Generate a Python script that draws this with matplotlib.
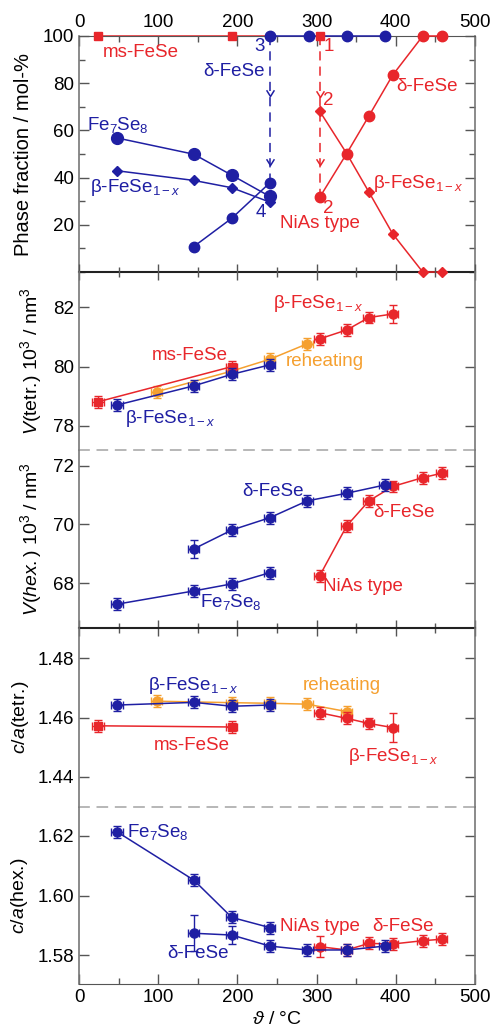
import matplotlib
matplotlib.use('Agg')
import matplotlib.pyplot as plt
from matplotlib.ticker import MultipleLocator, FormatStrFormatter

plt.rcParams['font.family'] = ['Liberation Sans', 'DejaVu Sans']
plt.rcParams['mathtext.fontset'] = 'custom'
plt.rcParams['mathtext.rm'] = 'Liberation Sans'
plt.rcParams['mathtext.it'] = 'Liberation Sans:italic'
plt.rcParams['font.size'] = 13

RED = '#e8262b'
BLUE = '#1f1fa3'
ORANGE = '#f5a030'

# ---- phase fractions (mol-%) ----
T_ms = [24, 193]
frac_ms = [100, 100]
T_d100 = [241, 290, 338, 386]
frac_d100 = [100, 100, 100, 100]
T_one = [304]
frac_one = [100]

T_lo = [48, 145, 193, 241]
frac_fe7se8 = [56.8, 49.9, 41.0, 32.0]
frac_beta_lo = [42.9, 38.8, 35.7, 29.6]
T_dlo = [145, 193, 241]
frac_delta_lo = [10.8, 22.8, 37.8]

T_hi = [304, 338, 366, 396, 434, 458]
frac_nias = [31.7, 50.2, 66.1, 83.4, 100, 100]
frac_beta_hi = [68.1, 50.2, 33.9, 16.2, 0, 0]

# ---- V(tetr.) ----
v_ms = [78.81, 80.00]
v_beta_lo = [78.70, 79.35, 79.74, 80.06]
T_re = [98, 193, 241, 288]
v_re = [79.15, 79.85, 80.25, 80.77]
T_bhi = [304, 338, 366, 396]
v_beta_hi = [80.94, 81.24, 81.66, 81.78]
v_beta_hi_err = [0.2, 0.2, 0.2, 0.3]

# ---- V(hex.) ----
T_d = [145, 193, 241, 288, 338, 386]
v_delta = [69.17, 69.81, 70.23, 70.80, 71.06, 71.34]
v_delta_err = [0.3, 0.2, 0.2, 0.2, 0.2, 0.2]
v_fe7se8 = [67.29, 67.74, 67.98, 68.36]
v_nias = [68.26, 69.95, 70.80, 71.29, 71.59, 71.74]

# ---- c/a (tetr.) ----
ca_beta_lo = [1.4642, 1.4651, 1.4638, 1.4642]
T_re_ca = [98, 193, 241, 288, 338]
ca_re = [1.4655, 1.4650, 1.4648, 1.4645, 1.4620]
ca_ms = [1.4572, 1.4568]
ca_beta_hi = [1.4616, 1.4597, 1.4580, 1.4566]
ca_beta_hi_err = [0.002, 0.002, 0.002, 0.005]

# ---- c/a (hex.) ----
ca_fe7se8 = [1.6214, 1.6052, 1.5927, 1.5893]
ca_delta = [1.5874, 1.5868, 1.5831, 1.5818, 1.5818, 1.5831]
ca_delta_err = [0.006, 0.003, 0.002, 0.002, 0.002, 0.002]
ca_nias = [1.5829, 1.5818, 1.5840, 1.5838, 1.5849, 1.5854]
ca_nias_err = [0.0035, 0.002, 0.002, 0.002, 0.002, 0.002]

# dashed arrows in the phase panel
arrow_blue_T, arrow_blue_span, arrow_blue_tips = 241, [100, 39], [74.5, 45.5]
arrow_red_T, arrow_red_span, arrow_red_tips = 304, [100, 34], [74, 45.5]

fig = plt.figure(figsize=(4.94, 10.34), dpi=100)
L, W = 79 / 494, 396 / 494


def box(top, bot):
    return [L, 1 - bot / 1034, W, (bot - top) / 1034]


ax1 = fig.add_axes(box(36, 272))
axVt = fig.add_axes(box(272, 450))
axVh = fig.add_axes(box(450, 628))
axCt = fig.add_axes(box(628, 807))
axCh = fig.add_axes(box(807, 984))
axes = [ax1, axVt, axVh, axCt, axCh]

for ax in axes:
    ax.set_xlim(0, 500)
    ax.xaxis.set_major_locator(MultipleLocator(100))
    ax.xaxis.set_minor_locator(MultipleLocator(50))
    ax.tick_params(axis='y', which='both', direction='in', left=True, right=True,
                   labelsize=13.5, color='#555555')
    ax.tick_params(axis='y', which='major', length=7, width=1)
    ax.tick_params(axis='y', which='minor', length=4, width=1)
    ax.tick_params(axis='x', which='major', length=7, width=1, labelsize=13.5, color='#555555')
    ax.tick_params(axis='x', which='minor', length=4, width=1, color='#555555')
    for s in ['left', 'right']:
        ax.spines[s].set_color('#777777')
        ax.spines[s].set_linewidth(1.2)
    ax.patch.set_alpha(0)

# x tick placement per panel
ax1.tick_params(axis='x', which='both', direction='in', top=True, bottom=False,
                labeltop=True, labelbottom=False)
axVt.tick_params(axis='x', which='both', direction='inout', top=True, bottom=False,
                 labeltop=False, labelbottom=False)
axVt.tick_params(axis='x', which='major', length=11)
axVt.tick_params(axis='x', which='minor', length=7)
axVh.tick_params(axis='x', which='both', direction='inout', top=False, bottom=True,
                 labeltop=False, labelbottom=False)
axVh.tick_params(axis='x', which='major', length=11)
axVh.tick_params(axis='x', which='minor', length=7)
axCt.tick_params(axis='x', which='both', top=False, bottom=False,
                 labeltop=False, labelbottom=False)
axCh.tick_params(axis='x', which='both', direction='in', top=False, bottom=True,
                 labelbottom=True)

# spines
ax1.spines['top'].set_color('#555555')
ax1.spines['bottom'].set_color('#222222')
ax1.spines['bottom'].set_linewidth(1.5)
axVt.spines['top'].set_visible(False)
axVh.spines['bottom'].set_color('#222222')
axVh.spines['bottom'].set_linewidth(1.5)
axCt.spines['top'].set_visible(False)
axCh.spines['bottom'].set_color('#555555')
for ax in [axVt, axCt]:
    ax.spines['bottom'].set_color('#aaaaaa')
    ax.spines['bottom'].set_linestyle((0, (6, 5)))
    ax.spines['bottom'].set_linewidth(1.2)
for ax in [axVh, axCh]:
    ax.spines['top'].set_visible(False)

# ---------- panel 1: phase fractions ----------
ax1.set_ylim(0, 100)
ax1.yaxis.set_major_locator(MultipleLocator(20))
ax1.yaxis.set_minor_locator(MultipleLocator(10))
ax1.set_yticks([20, 40, 60, 80, 100])

ax1.plot(T_d100, frac_d100, color=BLUE, marker='o', ms=7.5, lw=1.1, zorder=3, clip_on=False)
ax1.plot(T_ms + T_d100[:1], frac_ms + frac_d100[:1], color=RED, lw=1.1, zorder=2, clip_on=False)
ax1.plot(T_ms, frac_ms, color=RED, marker='s', ms=6, lw=0, zorder=4, clip_on=False)
ax1.plot(T_one, frac_one, color=RED, marker='s', ms=6, lw=0, zorder=4, clip_on=False)

ax1.plot(T_lo, frac_fe7se8, color=BLUE, marker='o', ms=8.5, lw=1.1, zorder=3)
ax1.plot(T_lo, frac_beta_lo, color=BLUE, marker='D', ms=5.5, lw=1.1, zorder=3)
ax1.plot(T_dlo, frac_delta_lo, color=BLUE, marker='o', ms=7.5, lw=1.1, zorder=3)
ax1.plot(T_hi, frac_nias, color=RED, marker='o', ms=7.5, lw=1.1, zorder=3, clip_on=False)
ax1.plot(T_hi, frac_beta_hi, color=RED, marker='D', ms=5.5, lw=1.1, zorder=3, clip_on=False)

vhead = [(-1, 1.6), (0, 0), (1, 1.6)]
for T, span, tips, c in [(arrow_blue_T, arrow_blue_span, arrow_blue_tips, BLUE),
                         (arrow_red_T, arrow_red_span, arrow_red_tips, RED)]:
    ax1.plot([T, T], span, color=c, lw=1.1, ls=(0, (6, 4)), zorder=2)
    ax1.plot([T] * len(tips), tips, lw=0, marker=vhead, ms=9, mfc='none',
             mec=c, mew=1.1, zorder=2)

ax1.text(30, 92.8, 'ms-FeSe', color=RED, fontsize=13.5, va='center')
ax1.text(234, 85.1, 'δ-FeSe', color=BLUE, fontsize=13.5, va='center', ha='right')
ax1.text(10.5, 62.2, 'Fe$_7$Se$_8$', color=BLUE, fontsize=13.5, va='center')
ax1.text(14.5, 36, 'β-FeSe$_{1-x}$', color=BLUE, fontsize=13.5, va='center')
ax1.text(401, 78.5, 'δ-FeSe', color=RED, fontsize=13.5, va='center')
ax1.text(371, 37.4, 'β-FeSe$_{1-x}$', color=RED, fontsize=13.5, va='center')
ax1.text(254, 20.4, 'NiAs type', color=RED, fontsize=13.5, va='center')
ax1.text(228, 95.5, '3', color=BLUE, fontsize=13.5, va='center', ha='center')
ax1.text(230, 25.4, '4', color=BLUE, fontsize=13.5, va='center', ha='center')
ax1.text(315, 95.5, '1', color=RED, fontsize=13.5, va='center', ha='center')
ax1.text(315, 72.8, '2', color=RED, fontsize=13.5, va='center', ha='center')
ax1.text(315, 26.8, '2', color=RED, fontsize=13.5, va='center', ha='center')
ax1.set_ylabel('Phase fraction / mol-%', fontsize=14.5, va='center')
ax1.yaxis.set_label_coords(-0.139, 0.5)


def pts(ax, x, y, color, marker='o', yerr=None, xerr=7, ms=6.5, z=3):
    ax.errorbar(x, y, xerr=xerr, yerr=yerr, color=color, marker=marker, ms=ms,
                lw=1.1, elinewidth=1, capsize=3, capthick=1, zorder=z)


# ---------- panel 2: V(tetr.) ----------
axVt.set_ylim(77.18, 83.2)
axVt.set_yticks([78, 80, 82])
pts(axVt, T_re, v_re, ORANGE, yerr=0.2, z=2)
pts(axVt, T_ms, v_ms, RED, marker='s', yerr=0.2, ms=6, z=3)
pts(axVt, T_lo, v_beta_lo, BLUE, yerr=0.2, z=4)
pts(axVt, T_bhi, v_beta_hi, RED, yerr=v_beta_hi_err, z=3)
axVt.text(245, 82.15, 'β-FeSe$_{1-x}$', color=RED, fontsize=13.5, va='center')
axVt.text(92, 80.36, 'ms-FeSe', color=RED, fontsize=13.5, va='center')
axVt.text(261, 80.17, 'reheating', color=ORANGE, fontsize=13.5, va='center')
axVt.text(58, 78.25, 'β-FeSe$_{1-x}$', color=BLUE, fontsize=13.5, va='center')
axVt.set_ylabel('$V$(tetr.) 10$^3$ / nm$^3$', fontsize=14, va='center')
axVt.yaxis.set_label_coords(-0.122, 0.5)

# ---------- panel 3: V(hex.) ----------
axVh.set_ylim(66.48, 72.53)
axVh.set_yticks([68, 70, 72])
pts(axVh, T_lo, v_fe7se8, BLUE, yerr=0.2)
pts(axVh, T_hi, v_nias, RED, yerr=0.2, z=3)
pts(axVh, T_d, v_delta, BLUE, yerr=v_delta_err, z=4)
axVh.text(206, 71.12, 'δ-FeSe', color=BLUE, fontsize=13.5, va='center')
axVh.text(371, 70.4, 'δ-FeSe', color=RED, fontsize=13.5, va='center')
axVh.text(308, 67.88, 'NiAs type', color=RED, fontsize=13.5, va='center')
axVh.text(153, 67.35, 'Fe$_7$Se$_8$', color=BLUE, fontsize=13.5, va='center')
axVh.set_ylabel('$V$($hex.$) 10$^3$ / nm$^3$', fontsize=14, va='center')
axVh.yaxis.set_label_coords(-0.122, 0.5)

# ---------- panel 4: c/a (tetr.) ----------
axCt.set_ylim(1.4298, 1.4902)
axCt.set_yticks([1.44, 1.46, 1.48])
axCt.yaxis.set_major_formatter(FormatStrFormatter('%.2f'))
pts(axCt, T_re_ca, ca_re, ORANGE, yerr=0.002, z=2)
pts(axCt, T_ms, ca_ms, RED, marker='s', yerr=0.002, ms=6, z=3)
pts(axCt, T_lo, ca_beta_lo, BLUE, yerr=0.002, z=4)
pts(axCt, T_bhi, ca_beta_hi, RED, yerr=ca_beta_hi_err, z=3)
axCt.text(87, 1.4709, 'β-FeSe$_{1-x}$', color=BLUE, fontsize=13.5, va='center')
axCt.text(283, 1.4709, 'reheating', color=ORANGE, fontsize=13.5, va='center')
axCt.text(94, 1.4506, 'ms-FeSe', color=RED, fontsize=13.5, va='center')
axCt.text(340, 1.4467, 'β-FeSe$_{1-x}$', color=RED, fontsize=13.5, va='center')
axCt.set_ylabel('$c/a$(tetr.)', fontsize=14, va='center')
axCt.yaxis.set_label_coords(-0.148, 0.5)

# ---------- panel 5: c/a (hex.) ----------
axCh.set_ylim(1.5704, 1.6297)
axCh.set_yticks([1.58, 1.60, 1.62])
axCh.yaxis.set_major_formatter(FormatStrFormatter('%.2f'))
pts(axCh, T_hi, ca_nias, RED, yerr=ca_nias_err, z=3)
pts(axCh, T_lo, ca_fe7se8, BLUE, yerr=0.002, z=4)
pts(axCh, T_d, ca_delta, BLUE, yerr=ca_delta_err, z=4)
axCh.text(60, 1.6214, 'Fe$_7$Se$_8$', color=BLUE, fontsize=13.5, va='center')
axCh.text(254, 1.5898, 'NiAs type', color=RED, fontsize=13.5, va='center')
axCh.text(370, 1.5898, 'δ-FeSe', color=RED, fontsize=13.5, va='center')
axCh.text(112, 1.5807, 'δ-FeSe', color=BLUE, fontsize=13.5, va='center')
axCh.set_ylabel('$c/a$(hex.)', fontsize=14, va='center')
axCh.yaxis.set_label_coords(-0.15, 0.5)
axCh.set_xlabel(r'$\vartheta$ / °C', fontsize=14)

fig.savefig('out.png', dpi=100)
